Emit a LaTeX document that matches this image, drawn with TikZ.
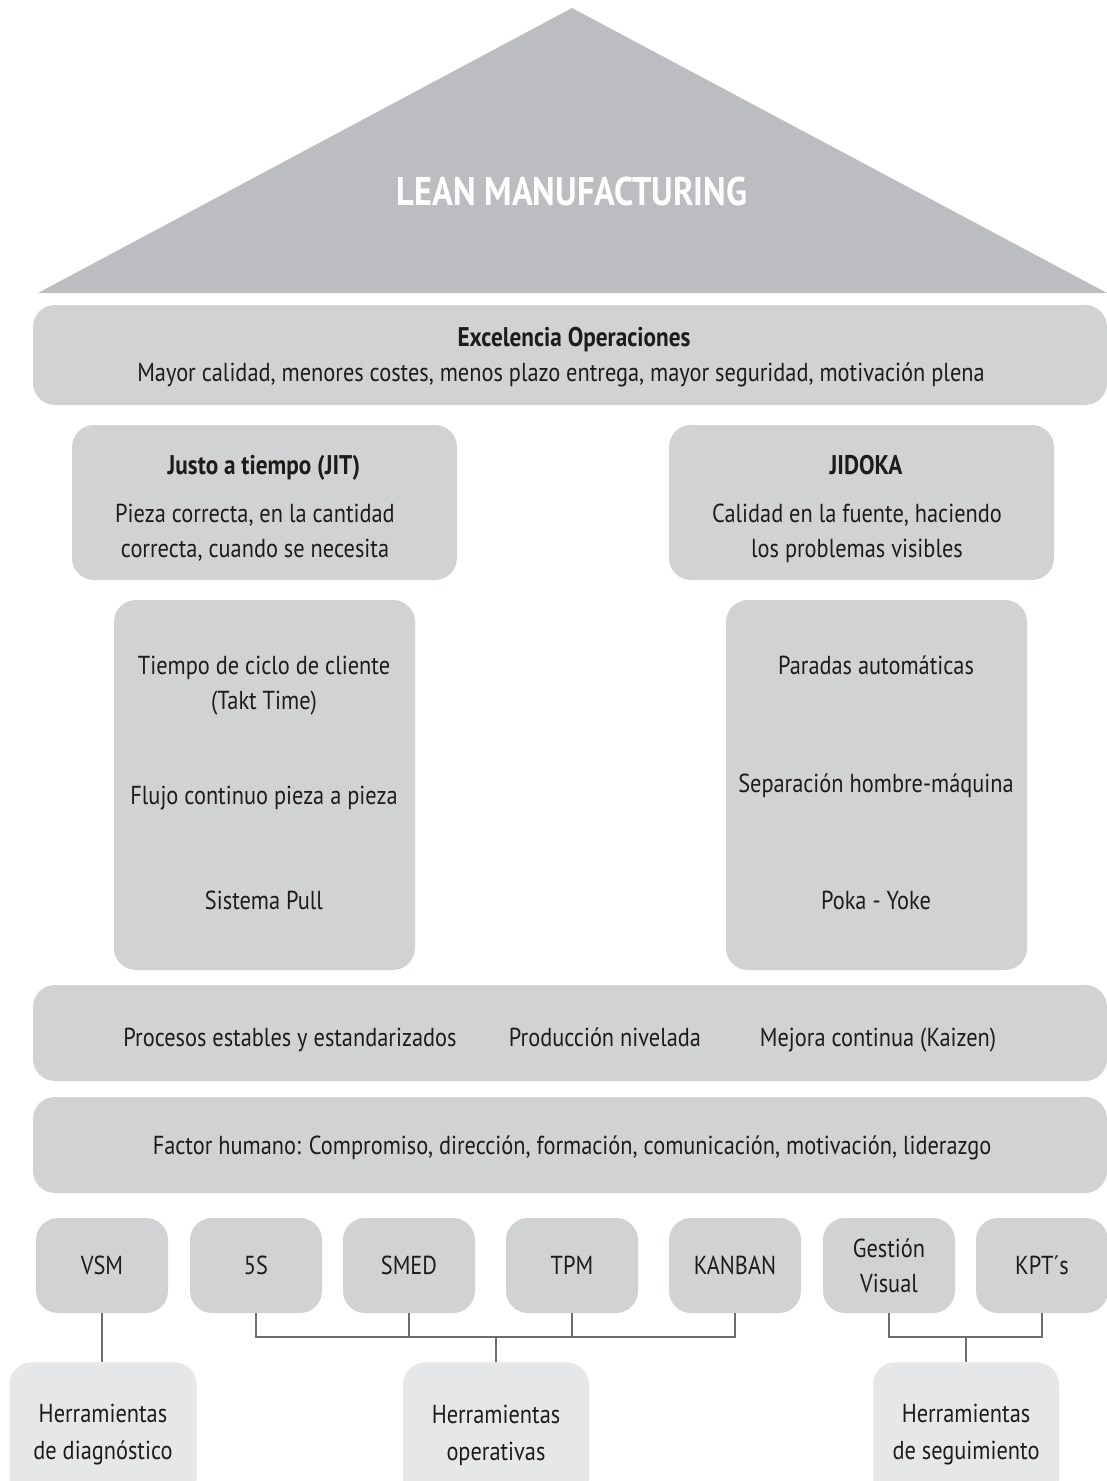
\documentclass[tikz,border=0pt]{standalone}
\usepackage{fontspec}
\setmainfont[FakeStretch=0.86]{PT Sans}
\usetikzlibrary{positioning}

\definecolor{roofgray}{RGB}{188,189,192}
\definecolor{boxgray}{RGB}{209,210,212}
\definecolor{toolgray}{RGB}{230,231,232}
\definecolor{linegray}{RGB}{109,110,113}
\definecolor{ink}{RGB}{30,27,28}

\tikzset{every picture/.style={line width=0.75pt}}
\tikzset{
  every node/.style={font=\fontsize{26}{35}\selectfont, text=ink, inner sep=0pt},
  band/.style={fill=boxgray, rounded corners=22pt, minimum width=1074pt, minimum height=98pt},
  pillarbox/.style={fill=boxgray, rounded corners=22pt},
  toolbox/.style={fill=boxgray, rounded corners=22pt, minimum width=132pt, minimum height=95pt, align=center},
  groupbox/.style={fill=toolgray, rounded corners=22pt, minimum height=140pt, align=center},
  conn/.style={draw=linegray, line width=1.5pt},
  title/.style={font=\bfseries\fontsize{27}{35}\selectfont, anchor=base}
}

\begin{document}
\begin{tikzpicture}[x=1pt,y=1pt,yscale=-1,xscale=1]
\clip (0,0) rectangle (1107,1481);

% Roof
\fill[roofgray] (38,293) -- (572,8) -- (1107,293) -- cycle;
\node[text=white, anchor=base, font=\bfseries\fontsize{40}{44}\selectfont] (lean) at (572,205) {LEAN MANUFACTURING};

% Excelencia
\node[band, minimum height=100pt] (exc) at (570,355) {};
\node[title] (exct) at (574,346) {Excelencia Operaciones};
\node[anchor=base] (excs) at (561,381) {Mayor calidad, menores costes, menos plazo entrega, mayor seguridad, motivación plena};

% Pillar heads
\node[pillarbox, minimum width=385pt, minimum height=155pt] (jit) at (264.5,502.5) {};
\node[title] (jitt) at (264,474) {Justo a tiempo (JIT)};
\node[align=center] (jits) at (255,533) {Pieza correcta, en la cantidad\\correcta, cuando se necesita};

\node[pillarbox, minimum width=385pt, minimum height=155pt] (jid) at (861.5,502.5) {};
\node[title] (jidt) at (866,474) {JIDOKA};
\node[align=center] (jids) at (857,533) {Calidad en la fuente, haciendo\\los problemas visibles};

% Pillars
\node[pillarbox, minimum width=301pt, minimum height=370pt] (jitp) at (264.5,785) {};
\node[align=center] (takt) at (264,686) {Tiempo de ciclo de cliente\\(Takt Time)};
\node[anchor=base] (flujo) at (264,804) {Flujo continuo pieza a pieza};
\node[anchor=base] (pull) at (264,909) {Sistema Pull};

\node[pillarbox, minimum width=301pt, minimum height=370pt] (jidp) at (876.5,785) {};
\node[anchor=base] (paradas) at (876,674) {Paradas automáticas};
\node[anchor=base] (separa) at (876,792) {Separación hombre-máquina};
\node[anchor=base] (poka) at (876,909) {Poka - Yoke};

% Base bands
\node[band, minimum height=96pt] (estab) at (570,1033) {};
\node[anchor=base] (proc) at (290,1046) {Procesos estables y estandarizados};
\node[anchor=base] (nivel) at (605,1046) {Producción nivelada};
\node[anchor=base] (kaizen) at (878,1046) {Mejora continua (Kaizen)};

\node[band, minimum height=96pt] (human) at (570,1145) {};
\node[anchor=base] (factor) at (572,1154) {Factor humano: Compromiso, dirección, formación, comunicación, motivación, liderazgo};

% Tools
\node[toolbox] (vsm) at (102,1265.5) {VSM};
\node[toolbox] (s5) at (256,1265.5) {5S};
\node[toolbox] (smed) at (409,1265.5) {SMED};
\node[toolbox] (tpm) at (572,1265.5) {TPM};
\node[toolbox] (kanban) at (735,1265.5) {KANBAN};
\node[toolbox] (gestion) at (889,1265.5) {Gestión\\Visual};
\node[toolbox] (kpt) at (1042,1265.5) {KPT´s};

% Tool groups
\node[groupbox, minimum width=187pt, anchor=north] (diag) at (103,1362) {};
\node[align=center, font=\fontsize{26}{37}\selectfont] (diagt) at (103,1435) {Herramientas\\de diagnóstico};
\node[groupbox, minimum width=186pt, anchor=north] (oper) at (496,1362) {};
\node[align=center, font=\fontsize{26}{37}\selectfont] (opert) at (496,1435) {Herramientas\\operativas};
\node[groupbox, minimum width=186pt, anchor=north] (segui) at (966,1362) {};
\node[align=center, font=\fontsize{26}{37}\selectfont] (seguit) at (966,1435) {Herramientas\\de seguimiento};

% Connectors
\coordinate (oprail) at (496,1337);
\coordinate (segrail) at (966,1337);
\draw[conn] (vsm.south) -- (vsm.south |- diag.north);
\draw[conn] (s5.south) |- (kanban.south |- oprail) -- (kanban.south);
\draw[conn] (smed.south) -- (smed.south |- oprail);
\draw[conn] (tpm.south) -- (tpm.south |- oprail);
\draw[conn] (oprail) -- (oper.north);
\draw[conn] (gestion.south) |- (kpt.south |- segrail) -- (kpt.south);
\draw[conn] (segrail) -- (segui.north);
\end{tikzpicture}
\end{document}
